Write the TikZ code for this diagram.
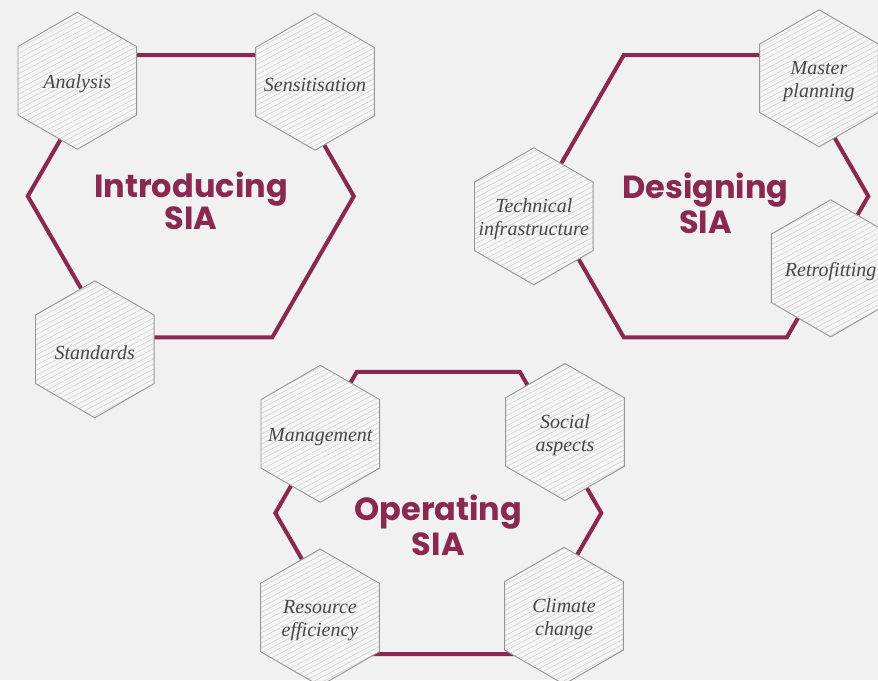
\documentclass[tikz,border=0pt]{standalone}
\usepackage{fontspec}
\usepackage{xcolor}
\usepackage{tikz}
\usetikzlibrary{positioning, shapes.geometric, patterns.meta}
\setmainfont{Liberation Serif}
\newfontfamily\titlefont{Poppins}
\definecolor{siared}{RGB}{137,41,80}
\definecolor{bggray}{RGB}{241,241,241}
\definecolor{hexgray}{RGB}{245,245,245}
\definecolor{hatchgray}{RGB}{205,205,205}
\definecolor{edgegray}{RGB}{150,150,150}
\definecolor{labelgray}{RGB}{72,72,72}

\begin{document}
\begin{tikzpicture}[
    x=1pt, y=-1pt,
    stage/.style={
        regular polygon,
        regular polygon sides=6,
        draw=siared,
        line width=4pt,
        minimum size=326pt,
        inner sep=0pt
    },
    cell/.style={
        regular polygon,
        regular polygon sides=6,
        regular polygon rotate=30,
        draw=edgegray,
        line width=0.9pt,
        preaction={fill=hexgray},
        pattern={Lines[angle=28, distance=4.5pt, line width=0.5pt]},
        pattern color=hatchgray,
        minimum size=137pt,
        inner sep=0pt
    },
    cellname/.style={
        font=\fontsize{20}{23}\selectfont\itshape,
        text=labelgray,
        align=center,
        yshift=-3pt
    },
    stagename/.style={
        font=\titlefont\fontsize{32}{#1}\selectfont\bfseries,
        text=siared,
        align=center
    },
    stagename/.default=35
]

\clip (0,0) rectangle (878,680);
\fill[bggray] (0,0) rectangle (878,680);

\node[stage] (intro) at (190.8,196.2) {};
\node[stage] (design) at (705.3,196.2) {};
\node[stage] (operate) at (438.3,513) {};

\node[cell] (analysis) at (77.3,80.8) {};
\node[cell] (sensitise) at (315,81.7) {};
\node[cell] (standards) at (94.8,349.3) {};
\node[cell] (masterplan) at (819,78.3) {};
\node[cell] (techinfra) at (533.8,216.3) {};
\node[cell] (retrofit) at (830.7,268.3) {};
\node[cell] (management) at (320.3,433.8) {};
\node[cell] (social) at (565,432) {};
\node[cell] (resource) at (320,617.5) {};
\node[cell] (climate) at (564,615.8) {};

\node[cellname] (analysis-text) at (analysis) {Analysis};
\node[cellname] (sensitise-text) at (sensitise) {Sensitisation};
\node[cellname] (standards-text) at (standards) {Standards};
\node[cellname] (masterplan-text) at (masterplan) {Master\\planning};
\node[cellname] (techinfra-text) at (techinfra) {Technical\\infrastructure};
\node[cellname] (retrofit-text) at (retrofit) {Retrofitting};
\node[cellname] (management-text) at (management) {Management};
\node[cellname] (social-text) at (social) {Social\\aspects};
\node[cellname] (resource-text) at (resource) {Resource\\efficiency};
\node[cellname] (climate-text) at (climate) {Climate\\change};

\node[stagename=27] (intro-title) at (191,201) {Introducing\\SIA};
\node[stagename] (design-title) at (705.5,203.3) {Designing\\SIA};
\node[stagename] (operate-title) at (438.3,525) {Operating\\SIA};

\end{tikzpicture}
\end{document}
